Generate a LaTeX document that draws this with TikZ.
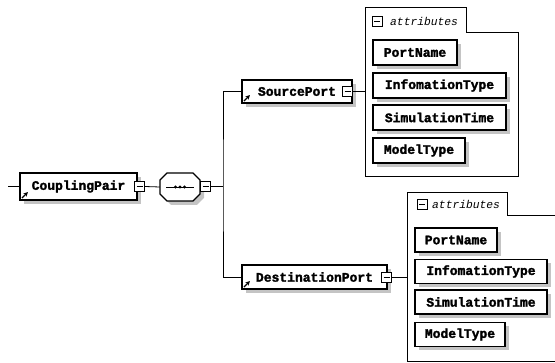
\documentclass[tikz,border=0pt]{standalone}
\usepackage{fontspec}
\setmonofont{Liberation Mono}[BoldFeatures={FakeBold=2}]
\usetikzlibrary{arrows.meta}
\definecolor{shadowgray}{RGB}{196,196,196}
\tikzset{
  elem/.style={draw, line width=1.1pt, fill=white, inner sep=0pt, minimum height=24pt,
    font=\ttfamily\bfseries\fontsize{13}{13}\selectfont},
  attrbox/.style={draw, line width=1.1pt, fill=white, inner sep=0pt, minimum height=24pt,
    font=\ttfamily\bfseries\fontsize{13}{13}\selectfont},
  shadowfill/.style={fill=shadowgray, draw=none},
  minusbox/.style={draw, line width=0.8pt, fill=white, minimum size=10pt, inner sep=0pt,
    path picture={\draw[line width=0.8pt] ([xshift=2pt]path picture bounding box.west) -- ([xshift=-2pt]path picture bounding box.east);}},
  conn/.style={line width=0.8pt},
  cont/.style={line width=0.9pt},
  attrlabel/.style={font=\ttfamily\itshape\fontsize{11.3}{11.3}\selectfont, anchor=west, inner sep=0pt},
  refarrow/.style={line width=1.2pt, -{Stealth[length=4.5pt,width=4.5pt]}}
}
\begin{document}
\begin{tikzpicture}[x=1pt,y=-1pt]
\useasboundingbox (0,0) rectangle (555,363);

% shadows first
\fill[shadowfill] (24,177) rectangle (141,204);
\fill[shadowfill] (246,84) rectangle (356,107);
\fill[shadowfill] (246,269) rectangle (391,293);
\fill[shadowfill] (171,177) -- (197,177) -- (204,184) -- (204,198) -- (197,205) -- (171,205) -- (164,198) -- (164,184) -- cycle;
\fill[shadowfill] (377,44) rectangle (461,69);
\fill[shadowfill] (377,77) rectangle (510,102);
\fill[shadowfill] (377,109) rectangle (510,134);
\fill[shadowfill] (377,142) rectangle (469,167);
\fill[shadowfill] (419,232) rectangle (501,256);
\fill[shadowfill] (419,263.5) rectangle (551,287.5);
\fill[shadowfill] (419,294) rectangle (551,318);
\fill[shadowfill] (419,326.5) rectangle (509,350.5);

% containers
\draw[cont] (365,176) -- (365,7) -- (466,7) -- (466,32) -- (518,32) -- (518,176) -- cycle;
\draw[cont] (555,361.5) -- (407,361.5) -- (407,192) -- (507,192) -- (507,215) -- (555,215);
\node[minusbox] (tm1) at (377,21.5) {};
\node[attrlabel] (al1) at (390,21) {attributes};
\node[minusbox] (tm2) at (422,204) {};
\node[attrlabel] (al2) at (432,204) {attributes};

% main elements
\coordinate (in) at (8,186.5);
\node[elem, minimum width=117pt, minimum height=27pt] (cp) at (78.5,186.5) {CouplingPair};
\node[minusbox] (cpm) at (139.5,186.5) {};

\node[minimum width=40pt, minimum height=28pt, inner sep=0pt] (seq) at (180,187) {};
\draw[line width=1.1pt, fill=white] (167,173) -- (193,173) -- (200,180) -- (200,194) -- (193,201) -- (167,201) -- (160,194) -- (160,180) -- cycle;
\draw[line width=0.9pt] (166,187) -- (194,187);
\foreach \d in {175.5,180,184.5} \fill (\d,187) circle (1.7pt);
\node[minusbox] (seqm) at (205.5,186.5) {};
\coordinate (jx) at (223,186.5);

\node[elem, minimum width=110pt, minimum height=23pt] (sp) at (297,91.5) {SourcePort};
\node[minusbox] (spm) at (347.5,91.5) {};
\node[elem, minimum width=145pt, minimum height=24pt] (dp) at (314.5,277) {DestinationPort};
\node[minusbox] (dpm) at (386.5,277) {};
\coordinate (c1) at (365,91.5);
\coordinate (c2) at (407,277);

% reference arrows
\foreach \n in {cp,sp,dp}
  \draw[refarrow] ([shift={(2.5,-2.5)}]\n.south west) -- ([shift={(8.5,-8.5)}]\n.south west);

% connectors
\draw[conn] (in) -- (cp.west);
\draw[conn] (cpm.east) -- (seq.west);
\draw[conn] (seqm.east) -- (jx);
\draw[conn] (sp.west) -| (jx) |- (dp.west);
\draw[conn] (spm.east) -- (c1);
\draw[conn] (dpm.east) -- (c2);

% attribute group 1
\node[attrbox, minimum width=84pt, minimum height=25pt] (pn1) at (415,52.5) {PortName};
\node[attrbox, minimum width=133pt, minimum height=25pt] (it1) at (439.5,85.5) {InfomationType};
\node[attrbox, minimum width=133pt, minimum height=25pt] (st1) at (439.5,117.5) {SimulationTime};
\node[attrbox, minimum width=92pt, minimum height=25pt] (mt1) at (419,150.5) {ModelType};

% attribute group 2
\node[attrbox, minimum width=82pt] (pn2) at (456,240) {PortName};
\node[attrbox, minimum width=132pt] (it2) at (481,271.5) {InfomationType};
\node[attrbox, minimum width=132pt] (st2) at (481,302) {SimulationTime};
\node[attrbox, minimum width=90pt] (mt2) at (460,334.5) {ModelType};
\end{tikzpicture}
\end{document}
